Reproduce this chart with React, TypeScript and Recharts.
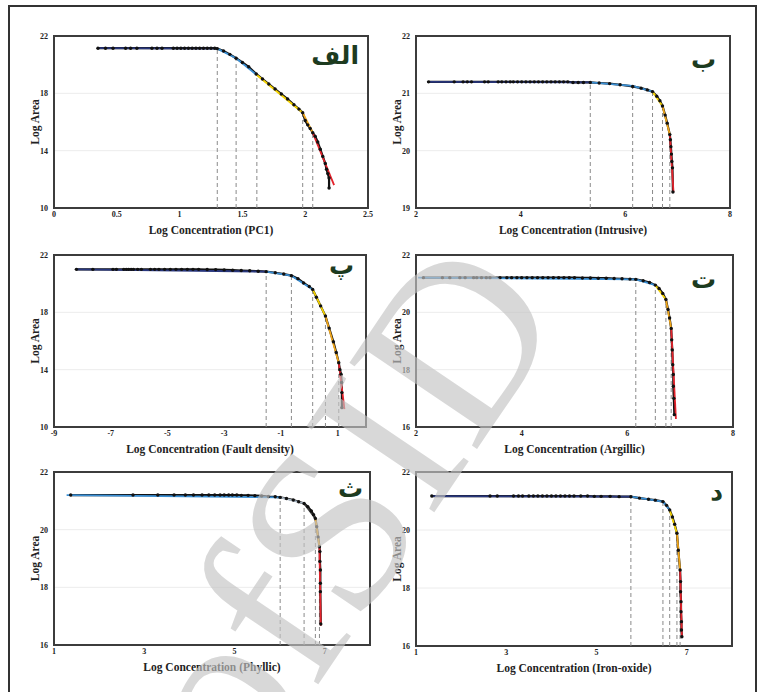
import React from 'react';
import { ComposedChart, Line, XAxis, YAxis, CartesianGrid, ReferenceLine, ReferenceArea } from 'recharts';

// ---------- colours ----------
const NAVY = '#28367c';
const BLUE = '#3a8fd4';
const YELLOW = '#f4d200';
const ORANGE = '#f0a61a';
const RED = '#e3222b';
const SILVER = '#a8b6c4';
const DARK = '#3a3a3a';

// ---------- Panel 1 : PC1 ----------
const P1_POINTS: [number, number][] = [
  [0.35, 21.15], [0.41, 21.15], [0.47, 21.15], [0.57, 21.15], [0.61, 21.15], [0.66, 21.15], [0.78, 21.15],
  [0.82, 21.15], [0.86, 21.15], [0.95, 21.15], [0.98, 21.15], [1.01, 21.15], [1.04, 21.15], [1.07, 21.15],
  [1.10, 21.15], [1.13, 21.15], [1.16, 21.15], [1.19, 21.15], [1.22, 21.15], [1.25, 21.15], [1.28, 21.15],
  [1.30, 21.12], [1.35, 20.95], [1.40, 20.72], [1.45, 20.45], [1.50, 20.15], [1.55, 19.85], [1.61, 19.35],
  [1.66, 19.0], [1.71, 18.65], [1.76, 18.3], [1.81, 17.95], [1.86, 17.6], [1.91, 17.2], [1.95, 16.9],
  [1.98, 16.65], [2.00, 16.1], [2.02, 15.8], [2.04, 15.55], [2.06, 15.25], [2.08, 15.0], [2.10, 14.6],
  [2.12, 14.1], [2.14, 13.6], [2.16, 13.1], [2.17, 12.7], [2.18, 12.4], [2.19, 12.1], [2.19, 11.4],
];
const P1_KNOTS_X = [0.35, 1.30, 1.45, 1.615, 1.98, 2.06, 2.23];
const P1_KNOTS_Y = [21.15, 21.12, 20.45, 19.28, 16.65, 15.25, 11.6];
const P1_COLORS = [NAVY, BLUE, BLUE, YELLOW, ORANGE, RED];
const P1_XTICKS = [0, 0.5, 1, 1.5, 2, 2.5];
const P1_YTICKS = [10, 14, 18, 22];

// ---------- Panel 2 : Intrusive ----------
const P2_POINTS: [number, number][] = [
  [2.24, 21.2], [2.73, 21.2], [2.90, 21.2], [2.98, 21.2], [3.06, 21.2], [3.31, 21.2], [3.38, 21.2],
  [3.57, 21.2], [3.64, 21.2], [3.72, 21.2], [3.80, 21.2], [3.86, 21.2], [3.94, 21.2], [4.02, 21.2],
  [4.10, 21.2], [4.18, 21.2], [4.26, 21.2], [4.34, 21.2], [4.42, 21.2], [4.50, 21.2], [4.58, 21.2],
  [4.66, 21.2], [4.74, 21.2], [4.82, 21.2], [4.90, 21.2], [5.0, 21.19], [5.1, 21.19], [5.2, 21.19],
  [5.33, 21.19], [5.5, 21.18], [5.7, 21.17], [5.9, 21.15], [6.14, 21.12], [6.3, 21.09], [6.42, 21.06],
  [6.52, 21.03], [6.6, 20.95], [6.66, 20.87], [6.71, 20.78], [6.76, 20.62], [6.80, 20.48], [6.85, 20.28],
  [6.86, 20.19], [6.87, 20.07], [6.88, 19.94], [6.89, 19.81], [6.90, 19.70], [6.91, 19.28],
];
const P2_KNOTS_X = [2.22, 5.33, 6.14, 6.52, 6.71, 6.85, 6.92];
const P2_KNOTS_Y = [21.2, 21.19, 21.13, 21.03, 20.78, 20.28, 19.28];
const P2_COLORS = [NAVY, BLUE, BLUE, YELLOW, ORANGE, RED];
const P2_XTICKS = [2, 4, 6, 8];
const P2_YTICKS = [19, 20, 21, 22];

// ---------- Panel 3 : Fault density ----------
const P3_POINTS: [number, number][] = [
  [-8.21, 21.0], [-7.63, 21.0], [-6.92, 21.0], [-6.80, 21.0], [-6.54, 21.0], [-6.45, 21.0], [-6.37, 21.0],
  [-6.28, 21.0], [-6.20, 21.0], [-6.05, 21.0], [-5.92, 21.0], [-5.6, 21.0], [-5.45, 21.0], [-5.3, 21.0],
  [-5.1, 21.0], [-4.9, 21.0], [-4.7, 21.0], [-4.5, 21.0], [-4.3, 21.0], [-4.1, 21.0], [-3.9, 21.0],
  [-3.6, 20.99], [-3.3, 20.98], [-3.0, 20.96], [-2.7, 20.94], [-2.4, 20.92], [-2.1, 20.9], [-1.8, 20.87],
  [-1.52, 20.84], [-1.2, 20.76], [-0.9, 20.67], [-0.63, 20.56], [-0.4, 20.35], [-0.2, 20.05], [0.0, 19.8],
  [0.12, 19.6], [0.25, 19.05], [0.4, 18.45], [0.57, 17.74], [0.7, 16.9], [0.85, 15.95], [0.95, 15.2],
  [1.04, 14.48], [1.08, 14.0], [1.12, 13.68], [1.14, 13.1], [1.15, 12.4], [1.15, 11.35],
];
const P3_KNOTS_X = [-8.21, -1.52, -0.63, 0.12, 0.57, 1.04, 1.24];
const P3_KNOTS_Y = [21.0, 20.84, 20.56, 19.6, 17.74, 14.48, 11.25];
const P3_COLORS = [NAVY, BLUE, BLUE, YELLOW, ORANGE, RED];
const P3_XTICKS = [-9, -7, -5, -3, -1, 1];
const P3_YTICKS = [10, 14, 18, 22];

// ---------- Panel 4 : Argillic ----------
const P4_POINTS: [number, number][] = [
  [2.14, 21.21], [2.50, 21.21], [2.64, 21.21], [2.83, 21.21], [2.93, 21.21], [3.09, 21.21], [3.15, 21.21],
  [3.24, 21.21], [3.33, 21.21], [3.40, 21.21], [3.59, 21.21], [3.72, 21.21], [3.81, 21.21], [3.91, 21.21],
  [4.0, 21.21], [4.1, 21.21], [4.2, 21.21], [4.3, 21.21], [4.4, 21.21], [4.5, 21.21], [4.6, 21.21],
  [4.7, 21.21], [4.8, 21.21], [4.9, 21.21], [5.0, 21.21], [5.15, 21.2], [5.3, 21.2], [5.45, 21.19],
  [5.6, 21.19], [5.75, 21.18], [5.9, 21.17], [6.05, 21.16], [6.16, 21.15], [6.3, 21.1], [6.42, 21.04],
  [6.53, 20.95], [6.6, 20.83], [6.67, 20.66], [6.73, 20.45], [6.77, 20.1], [6.80, 19.8], [6.83, 19.44],
  [6.84, 19.04], [6.85, 18.69], [6.86, 18.17], [6.87, 17.83], [6.87, 17.42], [6.88, 17.0], [6.89, 16.43],
];
const P4_KNOTS_X = [2.04, 6.16, 6.53, 6.73, 6.83, 6.92];
const P4_KNOTS_Y = [21.21, 21.15, 20.95, 20.45, 19.44, 16.28];
const P4_COLORS = [BLUE, BLUE, YELLOW, ORANGE, RED];
const P4_XTICKS = [2, 4, 6, 8];
const P4_YTICKS = [16, 18, 20, 22];

// ---------- Panel 5 : Phyllic ----------
const P5_POINTS: [number, number][] = [
  [1.37, 21.2], [2.75, 21.2], [3.30, 21.2], [3.66, 21.2], [3.91, 21.2], [4.09, 21.2], [4.28, 21.2],
  [4.43, 21.2], [4.56, 21.2], [4.68, 21.2], [4.77, 21.2], [4.87, 21.2], [4.95, 21.2], [5.05, 21.2],
  [5.15, 21.19], [5.3, 21.19], [5.45, 21.18], [5.6, 21.17], [5.75, 21.15], [5.9, 21.14], [6.01, 21.12],
  [6.15, 21.08], [6.3, 21.03], [6.42, 20.97], [6.54, 20.91], [6.62, 20.8], [6.7, 20.65], [6.75, 20.52],
  [6.79, 20.39], [6.82, 20.1], [6.85, 19.75], [6.88, 19.41], [6.89, 19.24], [6.89, 18.9], [6.90, 18.6],
  [6.90, 18.14], [6.90, 17.85], [6.91, 16.73],
];
const P5_KNOTS_X = [1.28, 6.01, 6.54, 6.79, 6.88, 6.91];
const P5_KNOTS_Y = [21.2, 21.12, 20.91, 20.39, 19.41, 16.67];
const P5_COLORS = [BLUE, SILVER, DARK, ORANGE, RED];
const P5_XTICKS = [1, 3, 5, 7];
const P5_YTICKS = [16, 18, 20, 22];

// ---------- Panel 6 : Iron-oxide ----------
const P6_POINTS: [number, number][] = [
  [1.35, 21.17], [2.64, 21.17], [2.80, 21.17], [3.16, 21.17], [3.27, 21.17], [3.36, 21.17], [3.5, 21.17],
  [3.6, 21.17], [3.7, 21.17], [3.8, 21.17], [3.9, 21.17], [4.0, 21.17], [4.1, 21.17], [4.2, 21.17],
  [4.3, 21.17], [4.4, 21.17], [4.5, 21.17], [4.65, 21.17], [4.8, 21.17], [4.95, 21.16], [5.1, 21.16],
  [5.3, 21.16], [5.5, 21.15], [5.76, 21.15], [5.95, 21.1], [6.15, 21.06], [6.3, 21.03], [6.47, 20.98],
  [6.55, 20.85], [6.62, 20.69], [6.68, 20.45], [6.73, 20.2], [6.78, 19.89], [6.81, 19.3], [6.85, 18.62],
  [6.86, 18.22], [6.86, 17.87], [6.87, 17.53], [6.87, 17.18], [6.88, 16.84], [6.88, 16.55], [6.89, 16.32],
];
const P6_KNOTS_X = [1.35, 5.76, 6.47, 6.62, 6.78, 6.85, 6.89];
const P6_KNOTS_Y = [21.17, 21.15, 20.98, 20.69, 19.89, 18.62, 16.32];
const P6_COLORS = [NAVY, BLUE, BLUE, YELLOW, ORANGE, RED];
const P6_XTICKS = [1, 3, 5, 7];
const P6_YTICKS = [16, 18, 20, 22];

const TITLES = ['الف', 'ب', 'پ', 'ت', 'ث', 'د'];
const X_LABELS = [
  'Log Concentration (PC1)',
  'Log Concentration (Intrusive)',
  'Log Concentration (Fault density)',
  'Log Concentration (Argillic)',
  'Log Concentration (Phyllic)',
  'Log Concentration (Iron-oxide)',
];
const WATERMARK = 'ofSID';

type Box = { left: number; top: number; right: number; bottom: number };
type PanelDef = {
  title: string;
  xLabel: string;
  points: [number, number][];
  kx: number[];
  ky: number[];
  colors: string[];
  xDomain: [number, number];
  yDomain: [number, number];
  xTicks: number[];
  yTicks: number[];
  box: Box;
  letter: { right: number; top: number };
};

const PANELS: PanelDef[] = [
  { title: TITLES[0], xLabel: X_LABELS[0], points: P1_POINTS, kx: P1_KNOTS_X, ky: P1_KNOTS_Y, colors: P1_COLORS,
    xDomain: [0, 2.5], yDomain: [10, 22], xTicks: P1_XTICKS, yTicks: P1_YTICKS,
    box: { left: 54, top: 36, right: 368, bottom: 208 }, letter: { right: 359, top: 43 } },
  { title: TITLES[1], xLabel: X_LABELS[1], points: P2_POINTS, kx: P2_KNOTS_X, ky: P2_KNOTS_Y, colors: P2_COLORS,
    xDomain: [2, 8], yDomain: [19, 22], xTicks: P2_XTICKS, yTicks: P2_YTICKS,
    box: { left: 416, top: 36, right: 730, bottom: 208 }, letter: { right: 716, top: 47 } },
  { title: TITLES[2], xLabel: X_LABELS[2], points: P3_POINTS, kx: P3_KNOTS_X, ky: P3_KNOTS_Y, colors: P3_COLORS,
    xDomain: [-9, 2], yDomain: [10, 22], xTicks: P3_XTICKS, yTicks: P3_YTICKS,
    box: { left: 54, top: 255, right: 366, bottom: 427 }, letter: { right: 354, top: 253 } },
  { title: TITLES[3], xLabel: X_LABELS[3], points: P4_POINTS, kx: P4_KNOTS_X, ky: P4_KNOTS_Y, colors: P4_COLORS,
    xDomain: [2, 8], yDomain: [16, 22], xTicks: P4_XTICKS, yTicks: P4_YTICKS,
    box: { left: 416, top: 255, right: 733, bottom: 427 }, letter: { right: 716, top: 267 } },
  { title: TITLES[4], xLabel: X_LABELS[4], points: P5_POINTS, kx: P5_KNOTS_X, ky: P5_KNOTS_Y, colors: P5_COLORS,
    xDomain: [1, 8], yDomain: [16, 22], xTicks: P5_XTICKS, yTicks: P5_YTICKS,
    box: { left: 54, top: 472, right: 370, bottom: 645 }, letter: { right: 363, top: 476 } },
  { title: TITLES[5], xLabel: X_LABELS[5], points: P6_POINTS, kx: P6_KNOTS_X, ky: P6_KNOTS_Y, colors: P6_COLORS,
    xDomain: [1, 8], yDomain: [16, 22], xTicks: P6_XTICKS, yTicks: P6_YTICKS,
    box: { left: 416, top: 472, right: 732, bottom: 646 }, letter: { right: 723, top: 479 } },
];

const SERIF = '"Liberation Serif", "Times New Roman", serif';
const TICK = { fontSize: 8, fontWeight: 700, fontFamily: SERIF, fill: '#222' };

const PL = 40;
const PT = 8;
const PR = 8;
const PB = 44;

function Panel({ p }: { p: PanelDef }) {
  const w = p.box.right - p.box.left + PL + PR;
  const h = p.box.bottom - p.box.top + PT + PB;
  const data = p.points.map(([x, y]) => ({ x, y }));
  const segs = p.colors.map((c, i) => ({
    color: c,
    data: [
      { x: p.kx[i], y: p.ky[i] },
      { x: p.kx[i + 1], y: p.ky[i + 1] },
    ],
  }));
  const cuts = p.kx.slice(1, -1).map((x, i) => ({ x, y: p.ky[i + 1] }));
  const ymin = p.yDomain[0];
  return (
    <div style={{ position: 'absolute', left: p.box.left - PL, top: p.box.top - PT }}>
      <ComposedChart width={w} height={h} margin={{ top: PT, right: PR, left: 2, bottom: 0 }}>
        <CartesianGrid vertical={false} stroke="#ececec" strokeWidth={1} />
        <XAxis
          type="number"
          dataKey="x"
          domain={p.xDomain}
          ticks={p.xTicks}
          interval={0}
          allowDataOverflow
          axisLine={false}
          tickLine={false}
          tickSize={0}
          tickMargin={3}
          height={PB}
          tick={TICK}
          label={{ value: p.xLabel, position: 'center', fill: '#222', fontSize: 11.5, fontWeight: 700, fontFamily: SERIF }}
        />
        <YAxis
          type="number"
          dataKey="y"
          domain={p.yDomain}
          ticks={p.yTicks}
          interval={0}
          allowDataOverflow
          axisLine={false}
          tickLine={false}
          tickSize={0}
          tickMargin={6}
          width={PL - 2}
          tick={TICK}
          label={{ value: 'Log Area', angle: -90, position: 'center', fill: '#222', fontSize: 11.5, fontWeight: 700, fontFamily: SERIF }}
        />
        {cuts.map((c, i) => (
          <ReferenceLine
            key={'c' + i}
            segment={[{ x: c.x, y: ymin }, { x: c.x, y: c.y }]}
            stroke="#8a8a8a"
            strokeWidth={1}
            strokeDasharray="4 3"
          />
        ))}
        <Line
          data={data}
          dataKey="y"
          stroke="#111"
          strokeWidth={2.2}
          dot={{ r: 1.7, fill: '#111', stroke: 'none' }}
          isAnimationActive={false}
        />
        {segs.map((s, i) => (
          <Line
            key={'s' + i}
            data={s.data}
            dataKey="y"
            stroke={s.color}
            strokeWidth={1.8}
            dot={false}
            isAnimationActive={false}
          />
        ))}
        <ReferenceArea
          x1={p.xDomain[0]}
          x2={p.xDomain[1]}
          y1={p.yDomain[0]}
          y2={p.yDomain[1]}
          fill="none"
          fillOpacity={0}
          stroke="#3c3c3c"
          strokeWidth={2}
        />
      </ComposedChart>
      <div
        style={{
          position: 'absolute',
          left: p.letter.right - (p.box.left - PL) - 120,
          top: p.letter.top - (p.box.top - PT),
          width: 120,
          textAlign: 'right',
          direction: 'rtl',
          fontFamily: '"DejaVu Sans", sans-serif',
          fontWeight: 700,
          fontSize: 25,
          lineHeight: '25px',
          color: '#1d3b1f',
        }}
      >
        {p.title}
      </div>
    </div>
  );
}

export default function App() {
  return (
    <div
      style={{
        position: 'fixed',
        left: 0,
        top: 0,
        width: 758,
        height: 692,
        overflow: 'hidden',
        background: '#fff',
      }}
    >
      <div
        style={{
          position: 'absolute',
          left: 8,
          top: 5,
          width: 749,
          height: 800,
          border: '2px solid #333',
          boxSizing: 'border-box',
        }}
      />
      {PANELS.map((p, i) => (
        <Panel key={i} p={p} />
      ))}
      <svg
        width={758}
        height={692}
        style={{ position: 'absolute', left: 0, top: 0, pointerEvents: 'none' }}
      >
        <text
          x={247}
          y={790}
          transform="rotate(-56 247 790)"
          fontSize={235}
          fontFamily={SERIF}
          fill="#c4c4c4"
          opacity={0.65}
        >
          {WATERMARK}
        </text>
      </svg>
    </div>
  );
}
